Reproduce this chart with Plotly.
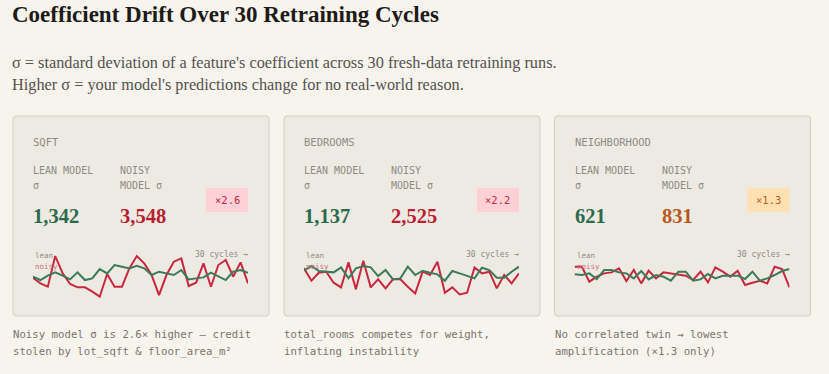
import plotly.graph_objects as go

W, H = 829, 374

features = ["SQFT", "BEDROOMS", "NEIGHBORHOOD"]
lean_sigma = ["1,342", "1,137", "621"]
noisy_sigma = ["3,548", "2,525", "831"]
ratios = ["×2.6", "×2.2", "×1.3"]
notes = [
    ["Noisy model σ is 2.6× higher — credit", "stolen by lot_sqft & floor_area_m²"],
    ["total_rooms competes for weight,", "inflating instability"],
    ["No correlated twin → lowest", "amplification (×1.3 only)"],
]
cycles = list(range(1, 31))

noisy_drift = [
    [-3, -20, -30, 62, 10, -22, -32, -32, -45, -60, 8, -30, -30, 25, 62,
     40, 5, -55, 5, 45, 55, -28, -18, 40, -30, 35, 50, 0, 43, -20],
    [25, -12, 12, 15, -18, -32, 43, -38, 48, -32, -8, -35, -8, -8, -30,
     -50, 15, 5, 45, -48, -32, -53, -48, 28, 10, 15, -35, 5, -20, 10],
    [30, 30, -15, 0, 10, 13, 25, -13, 20, -20, 18, -5, 13, 10, 7,
     3, -10, 15, -17, 28, 15, 0, 18, -25, -18, -12, -20, 30, 23, -32],
]
lean_drift = [
    [0, -10, 3, 13, 3, -8, 13, -10, -5, 23, 10, 35, 30, 25, 33,
     25, 5, 15, 10, 5, 20, -8, -5, -2, 12, 2, -10, 15, 20, 12],
    [18, 32, 17, 15, 13, 28, -5, 25, 32, 28, 2, 20, -8, -5, 30,
     5, 18, 12, 7, -12, 17, 10, 2, -5, 27, 20, -3, -3, 15, 30],
    [7, 5, 10, -7, 20, 20, 13, 10, -5, 17, -8, 5, 0, -12, 15,
     15, -12, -8, 8, -5, 3, 3, 3, -7, 15, -12, -5, 5, 17, 23],
]

# styles
BG = "#f7f4ee"
CARD = "#edeae3"
CARD_LINE = "#d2cdc5"
GREEN = "#3d7a57"
RED = "#c8283d"
NUM_GREEN = "#2c6a4c"
NUM_RED = "#b91f31"
NUM_ORANGE = "#b8581b"
GRAY = "#8e8a84"
MONO = "DejaVu Sans Mono"
SERIF = "Liberation Serif"
num_colors = [NUM_RED, NUM_RED, NUM_ORANGE]
badge_bg = ["#ffd1d7", "#ffd1d7", "#ffe0b3"]
badge_fg = ["#c4283b", "#c4283b", "#b8601c"]

card_left = [13, 284, 554.5]
card_w = 256
card_top, card_bot = 116, 316


def px(x):
    return x / W


def py(y):
    return 1 - y / H


fig = go.Figure()
annotations = []
shapes = []


def text(x, y, s, size, color, family, xanchor="left", bold=False):
    dx = {"left": -2, "right": 2, "center": 0}[xanchor]
    annotations.append(dict(
        x=px(x + dx), y=py(y), xref="paper", yref="paper", text=(f"<b>{s}</b>" if bold else s),
        showarrow=False, xanchor=xanchor, yanchor="middle",
        font=dict(size=size, color=color, family=family)))


def rrect(x0, y0, x1, y1, r):
    X0, X1 = px(x0), px(x1)
    Y0, Y1 = py(y0), py(y1)
    rx, ry = r / W, r / H
    return (f"M {X0+rx},{Y0} L {X1-rx},{Y0} Q {X1},{Y0} {X1},{Y0-ry} "
            f"L {X1},{Y1+ry} Q {X1},{Y1} {X1-rx},{Y1} L {X0+rx},{Y1} "
            f"Q {X0},{Y1} {X0},{Y1+ry} L {X0},{Y0-ry} Q {X0},{Y0} {X0+rx},{Y0} Z")


text(12, 14, "Coefficient Drift Over 30 Retraining Cycles", 23, "#1d1b18", SERIF, bold=True)
text(12, 62, "σ = standard deviation of a feature's coefficient across 30 fresh-data retraining runs.",
     16.3, "#555250", SERIF)
text(12, 84, "Higher σ = your model's predictions change for no real-world reason.",
     16.3, "#555250", SERIF)

for i in range(3):
    L = card_left[i]
    shapes.append(dict(type="path", path=rrect(L, card_top, L + card_w, card_bot, 3),
                       xref="paper", yref="paper", fillcolor=CARD,
                       line=dict(color=CARD_LINE, width=1), layer="below"))
    text(L + 20, 142, features[i], 10.5, GRAY, MONO)
    text(L + 20, 170, "LEAN MODEL", 10, GRAY, MONO)
    text(L + 20, 185, "σ", 10, GRAY, MONO)
    text(L + 107, 170, "NOISY", 10, GRAY, MONO)
    text(L + 107, 185, "MODEL σ", 10, GRAY, MONO)
    bx0 = L + card_w - 63
    shapes.append(dict(type="rect", x0=px(bx0), x1=px(bx0 + 42), y0=py(212), y1=py(188),
                       xref="paper", yref="paper", fillcolor=badge_bg[i], line=dict(width=0)))
    text(bx0 + 21, 200, ratios[i], 10.5, badge_fg[i], MONO, xanchor="center")
    text(L + 20, 216, lean_sigma[i], 20.5, NUM_GREEN, SERIF, bold=True)
    text(L + 107, 216, noisy_sigma[i], 20.5, num_colors[i], SERIF, bold=True)
    # sparkline labels
    text(L + 22, 256, "lean", 7.5, GRAY, MONO)
    text(L + 22, 266, "noisy", 7.5, "#d0707c", MONO)
    text(L + 235, 254, "30 cycles →", 8, GRAY, MONO, xanchor="right")
    # notes
    text(L, 334, notes[i][0], 10.7, "#7a766f", MONO)
    text(L, 351, notes[i][1], 10.7, "#7a766f", MONO)

    xa = "x" if i == 0 else f"x{i+1}"
    ya = "y" if i == 0 else f"y{i+1}"
    fig.add_trace(go.Scatter(x=cycles, y=noisy_drift[i], mode="lines", xaxis=xa, yaxis=ya,
                             line=dict(color=RED, width=2), hoverinfo="skip", showlegend=False))
    fig.add_trace(go.Scatter(x=cycles, y=lean_drift[i], mode="lines", xaxis=xa, yaxis=ya,
                             line=dict(color=GREEN, width=2), hoverinfo="skip", showlegend=False))
    ax = dict(domain=[px(L + 20), px(L + 235)], range=[1, 30], visible=False, fixedrange=True)
    ay = dict(domain=[py(306.7), py(246.7)], range=[-90, 90], visible=False, fixedrange=True)
    if i > 0:
        ax["anchor"] = ya
        ay["anchor"] = xa
    fig.update_layout(**{("xaxis" if i == 0 else f"xaxis{i+1}"): ax,
                         ("yaxis" if i == 0 else f"yaxis{i+1}"): ay})

fig.update_layout(width=W, height=H, margin=dict(l=0, r=0, t=0, b=0),
                  paper_bgcolor=BG, plot_bgcolor="rgba(0,0,0,0)",
                  annotations=annotations, shapes=shapes, showlegend=False)
fig.write_html("out.html", config={"displayModeBar": False},
               post_script="document.body.style.margin='0';document.body.style.background='#f7f4ee';document.body.style.overflow='hidden';")
